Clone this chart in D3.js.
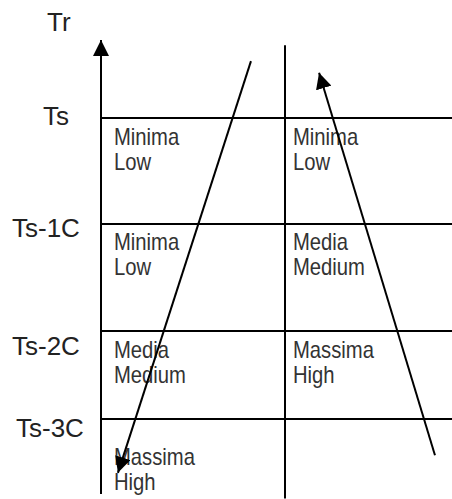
<!DOCTYPE html>
<html>
<head>
<meta charset="utf-8">
<script src="https://cdn.jsdelivr.net/npm/d3@7"></script>
<style>
  html, body { margin: 0; padding: 0; background: #fff; }
  svg { display: block; }
</style>
</head>
<body>
<svg id="chart" width="452" height="499"></svg>
<script>
// ---- data ----
const axisTitle = "Tr";
const levelLabels = ["Ts", "Ts-1C", "Ts-2C", "Ts-3C"];
const levelValues = [0, -1, -2, -3];
const columns = [0, 1];
// cell texts, row = level band below each level line, col = column
const cellTop = [
  ["Minima", "Minima"],
  ["Minima", "Media"],
  ["Media", "Massima"],
  ["Massima", ""]
];
const cellBottom = [
  ["Low", "Low"],
  ["Low", "Medium"],
  ["Medium", "High"],
  ["High", ""]
];
// trend arrows: [x, y] start -> end, in grid units (x: column, y: level)
const arrowStarts = [[0.815, 0.54], [1.898, -3.41]];
const arrowEnds   = [[0.092, -3.61], [1.204, 0.43]];

// ---- layout ----
const svg = d3.select("#chart");
const x = d3.scaleLinear().domain([0, 1, 2]).range([101, 285, 452]);
const y = d3.scaleLinear()
  .domain([0.74, 0, -1, -2, -3, -3.85])
  .range([40, 118, 224, 331, 419, 494]);

const defs = svg.append("defs");
defs.append("marker")
  .attr("id", "head")
  .attr("viewBox", "0 0 16 16")
  .attr("refX", 16).attr("refY", 8)
  .attr("markerWidth", 16).attr("markerHeight", 16)
  .attr("markerUnits", "userSpaceOnUse")
  .attr("orient", "auto")
  .append("path")
  .attr("d", "M0,0 L16,8 L0,16 Z")
  .attr("fill", "#000");

// horizontal level lines
svg.append("g").selectAll("line").data(levelValues).join("line")
  .attr("x1", x(0)).attr("x2", x(2))
  .attr("y1", d => y(d)).attr("y2", d => y(d))
  .attr("stroke", "#000").attr("stroke-width", 2);

// y axis with arrow
svg.append("line")
  .attr("x1", x(0)).attr("x2", x(0))
  .attr("y1", y(-3.85)).attr("y2", y(0.74))
  .attr("stroke", "#000").attr("stroke-width", 2)
  .attr("marker-end", "url(#head)");

// column divider
svg.append("line")
  .attr("x1", x(1)).attr("x2", x(1))
  .attr("y1", y(0.69)).attr("y2", y(-3.9))
  .attr("stroke", "#000").attr("stroke-width", 2);

// axis title
svg.append("text")
  .attr("x", 47).attr("y", 31)
  .attr("font-family", "Liberation Sans, Arial, sans-serif")
  .attr("font-size", 26).attr("fill", "#222")
  .text(axisTitle);

// level labels
const labelX = [43, 12, 12, 16];
const labelDy = [7, 13, 24, 18];
svg.append("g").selectAll("text").data(levelLabels).join("text")
  .attr("x", (d, i) => labelX[i])
  .attr("y", (d, i) => y(levelValues[i]) + labelDy[i])
  .attr("font-family", "Liberation Sans, Arial, sans-serif")
  .attr("font-size", 26).attr("fill", "#222")
  .text(d => d);

// cell texts (condensed)
const cellX = [114, 293];
const rowDy = [27, 26, 27, 46];
const cells = [];
cellTop.forEach((row, r) => row.forEach((t, c) => {
  cells.push({ r, c, top: t, bottom: cellBottom[r][c] });
}));
const cellG = svg.append("g")
  .attr("font-family", "Liberation Sans, Arial, sans-serif")
  .attr("font-size", 23).attr("fill", "#333");
cellG.selectAll("text.top").data(cells).join("text")
  .attr("class", "top")
  .attr("transform", d => `translate(${cellX[d.c]},${y(levelValues[d.r]) + rowDy[d.r]}) scale(0.88,1)`)
  .text(d => d.top);
cellG.selectAll("text.bot").data(cells).join("text")
  .attr("class", "bot")
  .attr("transform", d => `translate(${cellX[d.c]},${y(levelValues[d.r]) + rowDy[d.r] + 25}) scale(0.88,1)`)
  .text(d => d.bottom);

// trend arrows
svg.append("g").selectAll("line").data(arrowStarts).join("line")
  .attr("x1", d => x(d[0])).attr("y1", d => y(d[1]))
  .attr("x2", (d, i) => x(arrowEnds[i][0])).attr("y2", (d, i) => y(arrowEnds[i][1]))
  .attr("stroke", "#000").attr("stroke-width", 2)
  .attr("marker-end", "url(#head)");
</script>
</body>
</html>
